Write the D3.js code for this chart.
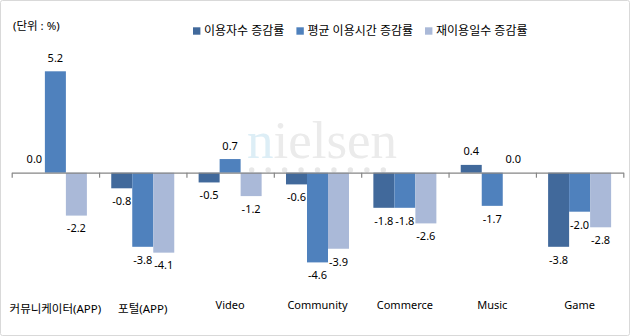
<!DOCTYPE html>
<html>
<head>
<meta charset="utf-8">
<script src="https://cdn.jsdelivr.net/npm/d3@7/dist/d3.min.js"></script>
<style>
  html, body { margin: 0; padding: 0; background: #fff; }
  svg { display: block; font-family: "Noto Sans", "Noto Sans CJK KR", sans-serif; }
</style>
</head>
<body>
<svg id="chart" width="630" height="336"></svg>
<script>
// Categories and the three growth-rate series (%)
const categories = ["커뮤니케이터(APP)", "포털(APP)", "Video", "Community", "Commerce", "Music", "Game"];
const seriesNames = ["이용자수 증감률", "평균 이용시간 증감률", "재이용일수 증감률"];
const users      = [0.0, -0.8, -0.5, -0.6, -1.8, 0.4, -3.8];
const usageTime  = [5.2, -3.8, 0.7, -4.6, -1.8, -1.7, -2.0];
const revisits   = [-2.2, -4.1, -1.2, -3.9, -2.6, 0.0, -2.8];
const seriesValues = [users, usageTime, revisits];
const colors = ["#41699b", "#4f81bd", "#aab9d8"];
const unitLabel = "(단위 : %)";

const svg = d3.select("#chart");
const W = 630, H = 336;

// Outer frame
svg.append("rect")
  .attr("x", 0.5).attr("y", 0.5)
  .attr("width", W - 1).attr("height", H - 1)
  .attr("rx", 2)
  .attr("fill", "#fff").attr("stroke", "#d9d9d9").attr("stroke-width", 1);

// Scales
const x = d3.scaleBand().domain(categories).range([11.7, 623.3]).padding(0);
const xs = d3.scaleBand().domain(d3.range(seriesNames.length))
  .range([0, x.bandwidth()]).paddingInner(0).paddingOuter(0.58);
const y = d3.scaleLinear().domain([-5, 6]).range([270.2, 55.7]);

// Watermark
const wm = svg.append("g").attr("class", "watermark");
const wmText = wm.append("text")
  .attr("x", 247).attr("y", 158)
  .attr("font-family", "'Liberation Serif', 'DejaVu Serif', serif")
  .attr("font-size", 53)
  .attr("fill", "#ebebeb");
wmText.append("tspan").attr("fill", "#ddeef6").text("n");
wmText.append("tspan").text("ielsen");
wm.selectAll("circle")
  .data(d3.range(9))
  .join("circle")
  .attr("cx", i => 251.7 + i * 16.45)
  .attr("cy", 170)
  .attr("r", 2.7)
  .attr("fill", "#e8e8e8");

// Bars
const rows = categories.map((c, ci) => ({
  cat: c,
  vals: seriesValues.map((arr, si) => ({ si, v: arr[ci] }))
}));

const groups = svg.append("g").selectAll("g")
  .data(rows)
  .join("g")
  .attr("transform", d => `translate(${x(d.cat)},0)`);

groups.selectAll("rect")
  .data(d => d.vals)
  .join("rect")
  .attr("x", d => xs(d.si))
  .attr("width", xs.bandwidth())
  .attr("y", d => Math.min(y(d.v), y(0)))
  .attr("height", d => Math.abs(y(d.v) - y(0)))
  .attr("fill", d => colors[d.si]);

// Axis along zero, with ticks at category boundaries
const xb = d3.scaleLinear().domain([0, categories.length]).range(x.range());
svg.append("g")
  .attr("transform", `translate(0,${y(0)})`)
  .call(d3.axisBottom(xb).tickValues(d3.range(categories.length + 1))
    .tickSize(5).tickSizeOuter(0).tickFormat(""))
  .call(g => g.selectAll("path, line").attr("stroke", "#868686").attr("stroke-width", 1.2));

// Value labels (plain hyphen for negatives)
const fmt = d3.formatLocale({ decimal: ".", thousands: ",", grouping: [3], currency: ["", ""], minus: "-" }).format(".1f");
groups.selectAll("text.val")
  .data(d => d.vals)
  .join("text")
  .attr("class", "val")
  .attr("x", d => xs(d.si) + xs.bandwidth() / 2)
  .attr("y", d => d.v >= 0 ? y(d.v) - 9.5 : y(d.v) + 16.8)
  .attr("text-anchor", "middle")
  .attr("font-size", 11)
  .attr("fill", "#000")
  .text(d => fmt(d.v));

// Category labels
svg.append("g").selectAll("text")
  .data(categories)
  .join("text")
  .attr("x", d => x(d) + x.bandwidth() / 2)
  .attr("y", d => /[가-힣]/.test(d) ? 312.5 : 309)
  .attr("text-anchor", "middle")
  .attr("font-size", d => /[가-힣]/.test(d) ? 11.5 : 11)
  .attr("fill", "#000")
  .text(d => d);

// Unit note
svg.append("text")
  .attr("x", 13).attr("y", 29.5)
  .attr("font-size", 11.5)
  .attr("fill", "#000")
  .text(unitLabel);

// Legend
const legend = svg.append("g");
let lx = 193;
seriesNames.forEach((name, i) => {
  legend.append("rect")
    .attr("x", lx).attr("y", 27.3)
    .attr("width", 7.4).attr("height", 7.4)
    .attr("fill", colors[i]);
  const t = legend.append("text")
    .attr("x", lx + 11).attr("y", 35.2)
    .attr("font-size", 12)
    .attr("fill", "#000")
    .text(name);
  lx += 11 + t.node().getComputedTextLength() + 12;
});
</script>
</body>
</html>
